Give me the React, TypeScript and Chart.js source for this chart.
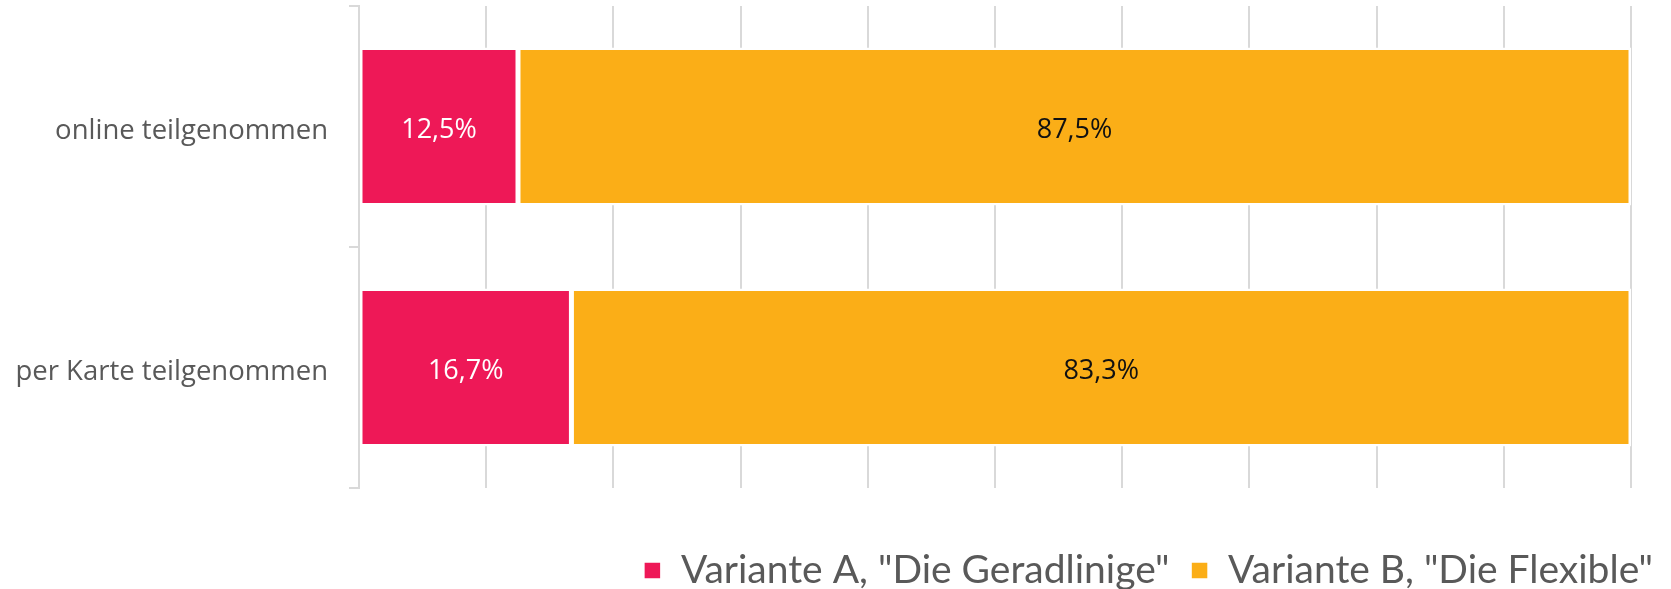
import React, { useEffect, useRef } from "react";
import { Chart, registerables } from "chart.js";

Chart.register(...registerables);

const categories = ["online teilgenommen", "per Karte teilgenommen"];
const seriesNames = ['Variante A, "Die Geradlinige"', 'Variante B, "Die Flexible"'];
const seriesA = [12.5, 16.7];
const seriesB = [87.5, 83.3];
const colors = ["#EE1857", "#FBAE17"];
const labelColors = ["#FFFFFF", "#111111"];

const fmt = (v: number) => v.toFixed(1).replace(".", ",") + "%";

const barLabels = {
  id: "barLabels",
  afterDatasetsDraw(chart: any) {
    const ctx = chart.ctx;
    ctx.save();
    ctx.font = '27px "Open Sans"';
    ctx.textAlign = "center";
    ctx.textBaseline = "middle";
    chart.data.datasets.forEach((ds: any, di: number) => {
      const meta = chart.getDatasetMeta(di);
      meta.data.forEach((el: any, i: number) => {
        const cx = (el.x + el.base) / 2;
        ctx.fillStyle = labelColors[di];
        ctx.fillText(fmt(ds.data[i]), cx, el.y + 4);
      });
    });
    ctx.restore();
  },
};

export default function App() {
  const ref = useRef<HTMLCanvasElement | null>(null);
  useEffect(() => {
    if (!ref.current) return;
    const chart = new Chart(ref.current, {
      type: "bar",
      data: {
        labels: categories,
        datasets: [
          {
            label: seriesNames[0],
            data: seriesA,
            backgroundColor: colors[0],
            borderColor: "#FFFFFF",
            borderWidth: 2.5,
            borderSkipped: false,
            barPercentage: 0.655,
            categoryPercentage: 1,
          },
          {
            label: seriesNames[1],
            data: seriesB,
            backgroundColor: colors[1],
            borderColor: "#FFFFFF",
            borderWidth: 2.5,
            borderSkipped: false,
            barPercentage: 0.655,
            categoryPercentage: 1,
          },
        ],
      },
      options: {
        indexAxis: "y",
        animation: false,
        responsive: false,
        layout: { padding: { top: 6, right: -3, left: 0, bottom: -11 } },
        plugins: {
          legend: {
            position: "bottom",
            align: "end",
            labels: {
              font: { family: "Lato", size: 39 },
              color: "#595959",
              boxWidth: 18,
              boxHeight: 18,
              padding: 21,
            },
          },
          tooltip: { enabled: false },
        },
        scales: {
          x: {
            stacked: true,
            min: 0,
            max: 100,
            ticks: { display: false, stepSize: 10 },
            grid: { color: "#D9D9D9", lineWidth: 2, drawTicks: false },
            border: { display: false },
            afterFit: (s: any) => {
              s.height = 42;
            },
          },
          y: {
            stacked: true,
            position: "left",
            ticks: {
              color: "#595959",
              font: { family: "Open Sans", size: 27.5 },
              padding: 21,
              labelOffset: 5,
            },
            grid: {
              drawOnChartArea: false,
              drawTicks: true,
              tickLength: 10,
              color: "#D9D9D9",
              lineWidth: 2,
              offset: true,
            },
            border: { display: true, color: "#D9D9D9", width: 2 },
            afterFit: (s: any) => {
              s.width = 359;
              s.paddingTop = 0;
              s.paddingBottom = 0;
            },
          },
          yRight: {
            type: "category",
            position: "right",
            display: true,
            ticks: { display: false },
            grid: { display: false },
            border: { display: false },
            afterFit: (s: any) => {
              s.width = 43;
              s.paddingTop = 0;
              s.paddingBottom = 0;
            },
          },
        },
      },
      plugins: [barLabels],
    } as any);
    return () => chart.destroy();
  }, []);
  return (
    <div style={{ position: "absolute", left: 0, top: 0, width: 1671, height: 589, background: "#fff" }}>
      <canvas ref={ref} width={1671} height={589} style={{ display: "block" }} />
    </div>
  );
}
